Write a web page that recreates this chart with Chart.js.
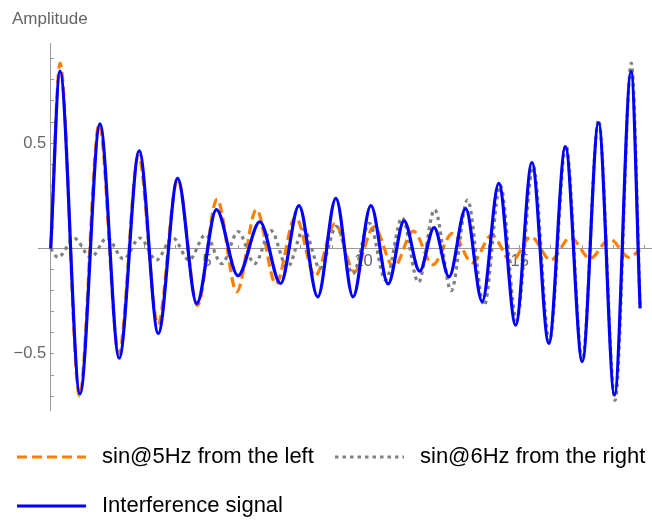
<!DOCTYPE html>
<html>
<head>
<meta charset="utf-8">
<title>Interference signal</title>
<script src="https://cdn.jsdelivr.net/npm/chart.js@4.4.1/dist/chart.umd.min.js"></script>
<style>
  html, body { margin: 0; padding: 0; background: #fff; }
  #wrap { position: relative; width: 652px; height: 520px; }
</style>
</head>
<body>
<div id="wrap"><canvas id="grafOndas"></canvas></div>
<script>
// peaks and troughs (x in time units, y in amplitude)
const leftX = [0, 0.30, 0.92, 1.55, 2.18, 2.81, 3.43, 4.06, 4.69, 5.32, 5.95, 6.58, 7.20, 7.83, 8.46, 9.09,
  9.71, 10.34, 10.97, 11.60, 12.22, 12.85, 13.48, 14.11, 14.73, 15.36, 15.99, 16.62, 17.25, 17.88, 18.50, 18.85]
const leftY = [0, 0.88, -0.70, 0.59, -0.50, 0.44, -0.36, 0.33, -0.27, 0.235, -0.205, 0.185, -0.168, 0.15, -0.13, 0.118,
  -0.11, 0.103, -0.088, 0.083, -0.077, 0.072, -0.068, 0.064, -0.062, 0.056, -0.055, 0.052, -0.047, 0.045, -0.042, -0.005]

const rightX = [0, 0.233, 0.757, 1.281, 1.805, 2.329, 2.853, 3.377, 3.901, 4.425, 4.949, 5.473, 5.997, 6.521, 7.045,
  7.569, 8.093, 8.617, 9.141, 9.665, 10.19, 10.71, 11.24, 11.76, 12.28, 12.81, 13.33, 13.86, 14.38, 14.90, 15.43,
  15.95, 16.48, 17.00, 17.52, 18.05, 18.57, 18.85]
const rightY = [0, -0.042, 0.048, -0.042, 0.05, -0.05, 0.05, -0.055, 0.052, -0.055, 0.065, -0.072, 0.08, -0.072, 0.085,
  -0.09, 0.09, -0.095, 0.105, -0.12, 0.12, -0.15, 0.146, -0.16, 0.185, -0.2, 0.23, -0.27, 0.30, -0.34, 0.39,
  -0.44, 0.49, -0.53, 0.61, -0.72, 0.88, -0.27]

const sumX = [0, 0.297, 0.936, 1.575, 2.19, 2.83, 3.44, 4.06, 4.67, 5.30, 5.99, 6.69, 7.35, 7.94, 8.54, 9.12, 9.67,
  10.24, 10.79, 11.30, 11.80, 12.26, 12.74, 13.27, 13.80, 14.33, 14.87, 15.39, 15.93, 16.46, 17.00, 17.52, 18.03, 18.56, 18.85]
const sumY = [0, 0.842, -0.69, 0.591, -0.52, 0.463, -0.403, 0.333, -0.261, 0.185, -0.129, 0.127, -0.166, 0.204, -0.229,
  0.238, -0.229, 0.204, -0.168, 0.131, -0.107, 0.099, -0.134, 0.189, -0.252, 0.309, -0.363, 0.408, -0.45, 0.483,
  -0.537, 0.597, -0.695, 0.839, -0.284]

const xTickLabels = [5, 10, 15]
const yTickLabels = [-0.5, 0.5]

const puntos = (xs, ys) => xs.map((x, i) => ({x: x, y: ys[i]}))
const fuente = '"Liberation Sans", Arial, sans-serif'

// axis title and legend drawn straight on the canvas
const leyenda = {
  id: 'leyenda',
  afterDraw(chart) {
    const ctx = chart.ctx
    ctx.save()
    ctx.textBaseline = 'middle'
    ctx.textAlign = 'left'
    ctx.font = '17px ' + fuente
    ctx.fillStyle = '#666'
    ctx.fillText('Amplitude', 12, 19)

    ctx.font = '22px ' + fuente
    const filas = [[0, 17, 457, 102], [1, 335, 457, 420], [2, 17, 506, 102]]
    filas.forEach(([i, x, y, tx]) => {
      const ds = chart.data.datasets[i]
      ctx.beginPath()
      ctx.setLineDash(ds.borderDash || [])
      ctx.strokeStyle = ds.borderColor
      ctx.lineWidth = 2.8
      ctx.moveTo(x, y)
      ctx.lineTo(x + 69, y)
      ctx.stroke()
      ctx.fillStyle = '#000'
      ctx.fillText(ds.label, tx, y)
    })
    ctx.restore()
  }
}

document.addEventListener('DOMContentLoaded', () => {
  new Chart(document.getElementById('grafOndas'), {
    type: 'line',
    data: {
      datasets: [{
        label: 'sin@5Hz from the left',
        data: puntos(leftX, leftY),
        borderColor: '#ff8000',
        borderWidth: 3.2,
        borderDash: [10, 5],
        order: 2,
      }, {
        label: 'sin@6Hz from the right',
        data: puntos(rightX, rightY),
        borderColor: '#808080',
        borderWidth: 3.2,
        borderDash: [3.5, 4],
        order: 1,
      }, {
        label: 'Interference signal',
        data: puntos(sumX, sumY),
        borderColor: '#0000ff',
        borderWidth: 3.2,
        order: 0,
      }]
    },
    options: {
      responsive: true,
      maintainAspectRatio: false,
      animation: false,
      layout: {padding: {left: 38.9, right: 0, top: 43, bottom: 110}},
      elements: {
        point: {radius: 0},
        line: {cubicInterpolationMode: 'monotone', fill: false},
      },
      plugins: {
        legend: {display: false},
        title: {display: false},
        tooltip: {enabled: false},
      },
      scales: {
        x: {
          type: 'linear',
          min: -0.377,
          max: 19.23,
          position: {y: 0},
          grid: {display: true, drawOnChartArea: false, drawTicks: true, tickLength: -4, tickColor: '#999'},
          border: {display: true, color: '#999', width: 1},
          ticks: {
            stepSize: 1,
            includeBounds: false,
            autoSkip: false,
            maxRotation: 0,
            padding: 5,
            color: '#666',
            font: {family: fuente, size: 16.5, lineHeight: 1.5},
            callback: v => xTickLabels.includes(v) ? String(v) : '',
          },
        },
        y: {
          type: 'linear',
          min: -0.766,
          max: 0.975,
          position: {x: 0},
          grid: {display: true, drawOnChartArea: false, drawTicks: true, tickLength: -4, tickColor: '#999'},
          border: {display: true, color: '#999', width: 1},
          ticks: {
            stepSize: 0.1,
            includeBounds: false,
            autoSkip: false,
            color: '#666',
            font: {family: fuente, size: 16.5},
            callback: v => {
              const t = yTickLabels.find(l => Math.abs(l - v) < 1e-6)
              return t === undefined ? '' : (t < 0 ? '\u2212' : '') + Math.abs(t) + ' '
            },
          },
        },
      },
    },
    plugins: [leyenda],
  })
})
</script>
</body>
</html>
